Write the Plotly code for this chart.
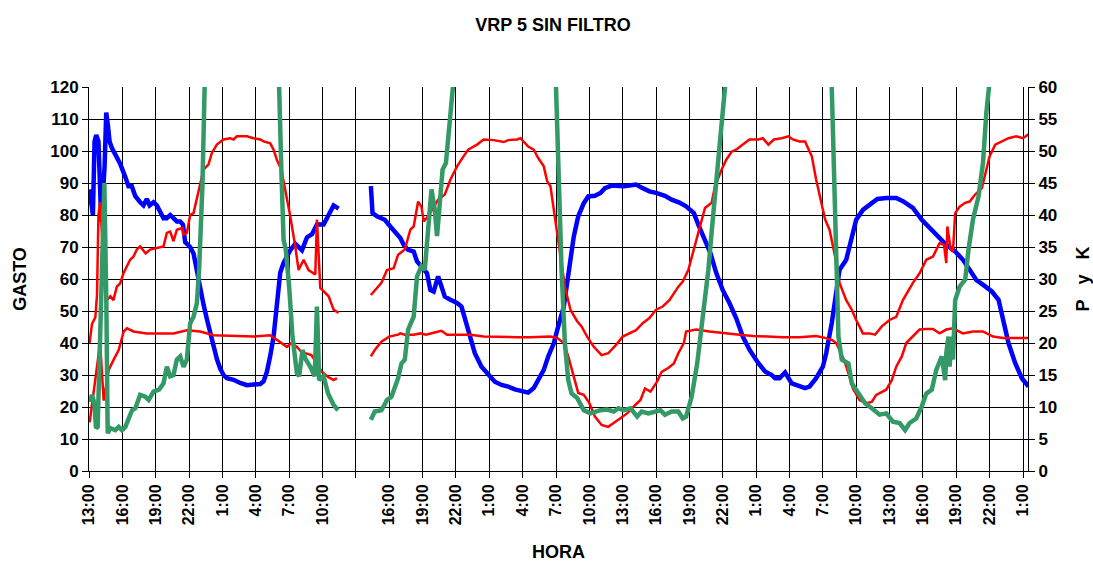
import plotly.graph_objects as go

# ---------------- data ----------------
# time axis: hours elapsed since 13:00 of the first day
TICK_HOURS = list(range(0, 85, 3))
TICK_LABELS = ["13:00", "16:00", "19:00", "22:00", "1:00", "4:00", "7:00", "10:00", "",
               "16:00", "19:00", "22:00", "1:00", "4:00", "7:00", "10:00",
               "13:00", "16:00", "19:00", "22:00", "1:00", "4:00", "7:00", "10:00",
               "13:00", "16:00", "19:00", "22:00", "1:00"]

# GASTO (left axis)
gasto_h = [0.05, 0.2, 0.35, 0.5, 0.65, 0.85, 0.95, 1.1, 1.4, 1.55,
           1.7, 1.85, 2.05, 2.35, 2.8, 3.25, 3.55, 3.85, 4.15, 4.6,
           4.9, 5.2, 5.45, 5.8, 6.1, 6.4, 6.7, 7.0, 7.3, 7.6,
           7.9, 8.2, 8.45, 8.65, 9.1, 9.4, 9.7, 10.0, 10.3, 10.6,
           10.9, 11.2, 11.5, 11.8, 12.1, 12.4, 13.0, 13.6, 14.2, 14.8,
           15.4, 15.7, 16.0, 16.3, 16.6, 16.9, 17.2, 17.5, 17.8, 18.1,
           18.55, 19.15, 19.6, 20.05, 20.5, 21.1, 21.55, 22.0, 22.45,
           None,
           25.35, 25.5, 25.9, 26.3, 26.6, 27.1, 27.5, 28.0, 28.3, 28.7,
           29.2, 29.5, 29.9, 30.4, 30.7, 31.0, 31.4, 31.6, 32.0, 32.5,
           33.1, 33.5, 33.8, 34.3, 34.7, 35.3, 35.9, 36.5, 37.1, 37.7,
           38.3, 38.9, 39.5, 40.0, 40.4, 40.9, 41.3, 41.8, 42.2, 42.7,
           43.0, 43.3, 43.6, 44.0, 44.5, 44.9, 45.5, 46.0, 46.4, 47.0,
           47.5, 48.1, 48.6, 49.2, 49.8, 50.4, 51.0, 51.8, 52.4, 53.1,
           53.7, 54.4, 54.8, 55.3, 55.9, 56.4, 57.0, 57.6, 58.2, 58.8,
           59.4, 60.2, 60.8, 61.4, 61.7, 62.1, 62.6, 63.2, 63.9, 64.4,
           64.8, 65.4, 66.0, 66.3, 66.8, 67.1, 67.5, 68.1, 68.6, 69.0,
           69.6, 70.2, 70.9, 71.7, 72.6, 73.2, 74.1, 74.9, 75.6, 76.4,
           77.1, 77.9, 78.6, 79.2, 79.8, 80.6, 81.2, 81.8, 82.2, 82.7,
           83.3, 83.9, 84.5]
gasto_v = [88, 82, 80, 103, 105, 103, 90, 78, 95, 112,
           108, 103, 101, 99, 96, 92, 89, 89, 86, 84,
           83, 85, 83, 84, 83, 81, 79, 79, 80, 79,
           78, 78, 77, 71.5, 70, 68, 62, 57, 52, 47.5,
           43, 39, 35, 32, 30, 29, 28.5, 27.5, 26.8, 27,
           27.2, 28, 31, 36, 42, 52, 62, 65, 67, 69,
           71, 69, 73, 74, 77, 77, 80, 83, 82,
           None,
           89, 80.6, 79.6, 79, 78.5, 76.4, 74.9, 72.8, 70.7, 69.1,
           68.6, 65.5, 63.9, 61.8, 56.6, 56.1, 60.8, 58.7, 54.5, 53.5,
           52.5, 51.4, 47.8, 42, 36.8, 32.6, 30, 27.9, 26.9, 26.4,
           25.5, 25, 24.5, 25.9, 28.5, 31.6, 35.8, 39.9, 45.2, 51.4,
           58.7, 67, 73.3, 79.6, 83.7, 85.8, 86, 86.9, 88.4, 89.2,
           89, 89, 89.2, 89.5, 88.4, 87.4, 86.9, 86, 84.8, 83.9,
           82.7, 80.6, 77, 73, 68, 62, 56.5, 52.5, 47.8, 42,
           37.9, 33.7, 31.1, 30, 29, 29, 30.8, 27.4, 26.4, 25.9,
           26.4, 29, 32.6, 36.8, 46.2, 54.5, 62.9, 66, 72.3, 78.5,
           81.6, 83.2, 85, 85.3, 85.3, 84.3, 82.2, 78.5, 75.9, 73.3,
           70.7, 68.6, 66, 62.9, 59.7, 57.7, 56.1, 53.5, 47.2, 39.9,
           33.7, 29, 26.4]

# P (upper pressure, right axis)
p1_h = [0.05, 0.27, 0.57, 0.72, 0.85, 1.0, 1.3, 1.62, 1.92, 2.2,
        2.5, 2.8, 3.1, 3.4, 3.7, 4.0, 4.3, 4.6, 5.1, 5.5,
        6.1, 6.7, 7.0, 7.3, 7.6, 7.9, 8.4, 8.5, 8.8, 9.1,
        9.4, 9.7, 10.0, 10.3, 10.75, 11.05, 11.5, 12.1, 12.7, 13.0,
        13.3, 14.2, 14.8, 15.4, 15.7, 16.3, 16.6, 16.9, 17.3, 17.6,
        18.1, 18.55, 18.85, 19.3, 19.75, 20.35, 20.5, 20.8, 21.55, 22.0,
        22.45,
        None,
        25.35, 26.3, 26.8, 27.4, 27.8, 28.4, 28.9, 29.2, 29.6, 29.9,
        30.1, 30.5, 31.4, 32.0, 32.5, 33.1, 33.7, 34.1, 34.9, 35.5,
        36.4, 37.3, 37.7, 38.5, 38.8, 39.1, 39.5, 40.0, 40.4, 40.9,
        41.2, 41.5, 41.8, 42.1, 42.4, 42.8, 43.3, 43.9, 44.3, 44.8,
        45.4, 46.1, 46.7, 47.4, 48.0, 48.6, 49.2, 49.8, 50.4, 51.0,
        51.6, 52.2, 53.0, 53.4, 53.9, 54.3, 54.8, 55.4, 56.0, 56.3,
        56.9, 57.3, 57.8, 58.2, 58.8, 59.4, 60.2, 60.6, 61.1, 61.6,
        62.3, 62.9, 63.3, 63.9, 64.4, 65.0, 65.4, 65.9, 66.2, 66.6,
        67.1, 67.5, 68.1, 68.6, 69.0, 69.6, 70.2, 70.7, 71.3, 72.0,
        72.6, 73.2, 74.1, 74.7, 75.3, 75.9, 76.5, 76.9, 77.1, 77.2,
        77.5, 77.7, 77.9, 78.3, 78.8, 79.2, 79.7, 80.3, 80.7, 81.0,
        81.5, 82.1, 82.7, 83.4, 84.0, 84.5]
p1_v = [20, 23, 24, 27.5, 40, 42, 33, 26.7, 27.3, 26.7,
        28.8, 29.3, 30.9, 32, 33, 33.5, 34.6, 35.1, 34, 34.6,
        34.8, 35.1, 37.2, 37.4, 35.9, 37.7, 38, 36.9, 37.2, 40,
        40.3, 42.6, 44.5, 47.1, 47.9, 49.7, 51, 51.8, 52, 51.8,
        52.3, 52.3, 52, 51.8, 51.5, 51.2, 50.2, 48.6, 47.1, 44.5,
        39.8, 35.1, 31.4, 33, 31.4, 30.7, 39.3, 28.6, 27.3, 25.2,
        24.7,
        None,
        27.5, 29.4, 31.4, 31.7, 33.8, 34.6, 37.7, 38.2, 42.1, 41.3,
        39, 39.8, 42.4, 43.2, 45.5, 47.6, 49.2, 50.2, 51, 51.8,
        51.7, 51.4, 51.7, 51.8, 52, 51.5, 50.7, 50.2, 48.9, 47.6,
        45.3, 44.5, 40.8, 37.7, 33.5, 28.8, 25.2, 23.4, 22.6, 21,
        19.4, 18.1, 18.4, 19.7, 21, 21.5, 22, 23.1, 23.9, 25.2,
        25.7, 26.7, 28.8, 29.6, 31.4, 34, 37.2, 41.1, 41.9, 44.5,
        47.1, 48.6, 49.9, 50.2, 51, 51.8, 51.8, 52, 51, 51.8,
        52, 52.3, 51.8, 51.5, 51.5, 49.2, 45.5, 41.9, 39.3, 37.7,
        33.5, 29.4, 26.7, 25.2, 23.6, 21.5, 21.5, 21.3, 22.6, 23.6,
        24.1, 26.7, 29.4, 30.9, 33, 33.5, 35.6, 35.3, 32.5, 38.2,
        34.6, 34.3, 40.3, 41.3, 41.9, 42.1, 43.2, 44.2, 47.1, 49.2,
        51, 51.5, 52, 52.3, 52, 52.6]

# P (lower pressure, right axis)
p2_h = [0.06, 0.27, 0.48, 0.78, 1.0, 1.32, 1.77, 2.22, 2.67, 3.12,
        3.42, 4.0, 5.2, 6.4, 7.6, 8.8, 10.0, 11.2, 13.6, 14.8,
        16.3, 16.9, 17.5, 17.8, 18.2, 18.7, 19.1, 20.0, 20.5, 20.9,
        21.5, 22.0, 22.3,
        None,
        25.35, 25.7, 26.3, 27.0, 27.8, 28.0, 28.4, 29.2, 29.8, 30.3,
        31.0, 31.7, 32.2, 33.4, 34.3, 35.5, 37.0, 38.5, 39.7, 40.6,
        41.5, 42.1, 42.7, 43.1, 43.6, 44.0, 44.5, 45.0, 45.5, 46.1,
        46.7, 47.2, 47.8, 48.4, 49.0, 49.6, 50.0, 50.5, 51.1, 51.5,
        52.1, 52.6, 53.0, 53.5, 53.7, 54.6, 55.8, 56.7, 57.5, 58.5,
        59.7, 60.9, 62.4, 63.9, 65.4, 66.2, 66.8, 67.2, 67.9, 68.3,
        68.7, 69.3, 69.9, 70.4, 70.8, 71.7, 72.2, 72.6, 73.1, 73.5,
        74.1, 74.7, 75.3, 75.9, 76.5, 77.1, 77.7, 78.6, 79.5, 80.4,
        81.3, 82.2, 83.1, 84.5]
p2_v = [7.6, 10.5, 12.5, 17, 20, 11, 15.8, 17.4, 18.9, 21.8,
        22.3, 21.8, 21.5, 21.5, 21.5, 22, 21.8, 21.2, 21, 21,
        21.2, 20.5, 19.7, 19.4, 20, 19.4, 18.6, 18.1, 16.8, 15.6,
        14.7, 14.2, 14.5,
        None,
        17.9, 18.9, 20.2, 21, 21.3, 21.5, 21.3, 21.3, 21.5, 21.3,
        21.6, 21.9, 21.3, 21.3, 21.3, 21, 20.9, 20.9, 20.9, 21,
        21, 20.8, 20, 17.9, 14.8, 12.2, 11.9, 10.6, 8.5, 7.2,
        6.9, 7.5, 8.2, 9, 10.1, 11.1, 12.9, 12.4, 14, 15.5,
        16.1, 16.8, 18.4, 20, 21.8, 22.1, 21.8, 21.6, 21.5, 21.3,
        21.1, 21, 20.9, 20.9, 21.1, 20.8, 20.5, 20, 17.4, 15.3,
        12.9, 11.1, 10.6, 10.8, 11.9, 12.7, 14.2, 16.3, 17.9, 20,
        21, 22.1, 22.2, 22.2, 21.5, 22.1, 22.3, 21.5, 21.8, 21.8,
        21, 20.8, 20.8, 20.8]

# K (right axis, runs off the top of the scale)
k_h = [0.06, 0.27, 0.48, 0.63, 0.78, 1.02, 1.38, 1.56, 1.68, 1.92,
       2.37, 2.67, 2.97, 3.27, 3.57, 3.87, 4.17, 4.6, 5.07, 5.37,
       5.8, 6.3, 6.7, 7.0, 7.3, 7.6, 7.9, 8.2, 8.5, 8.8,
       9.1, 9.4, 9.7, 9.9, 10.2, 10.4, 13.8, 17.1, 17.3, 17.5,
       17.7, 18.0, 18.3, 18.7, 18.9, 19.2, 19.5, 19.9, 20.3, 20.5,
       20.7, 21.1, 21.5, 22.0, 22.4,
       None,
       25.35, 25.7, 26.3, 26.8, 27.2, 27.5, 27.8, 28.1, 28.4, 28.7,
       29.2, 29.5, 29.9, 30.2, 30.5, 30.8, 31.1, 31.3, 31.5, 31.8,
       32.1, 32.5, 32.9, 37.5, 42.0, 42.2, 42.5, 42.8, 43.1, 43.4,
       43.9, 44.5, 45.1, 46.0, 46.6, 47.2, 47.6, 48.1, 48.7, 49.3,
       49.7, 50.3, 50.8, 51.4, 51.8, 52.4, 53.0, 53.4, 53.7, 54.2,
       54.7, 55.2, 55.7, 56.1, 56.5, 56.8, 57.1, 62.0, 66.8, 67.1,
       67.4, 67.7, 68.3, 68.6, 69.2, 69.8, 70.4, 71.1, 71.7, 72.3,
       72.9, 73.4, 73.8, 74.4, 74.9, 75.3, 75.8, 76.2, 76.7, 77.0,
       77.1, 77.3, 77.4, 77.6, 77.7, 77.9, 78.3, 78.8, 79.1, 79.5,
       80.0, 80.4, 80.7, 81.0, 84.5]
k_v = [10.8, 11.9, 10.6, 6.7, 6.9, 21, 45, 26.2, 5.9, 6.7,
       6.4, 6.9, 6.4, 6.9, 8, 9.5, 9.8, 11.9, 11.6, 11.1,
       12.4, 12.7, 13.7, 16.3, 14.8, 15, 17.4, 17.9, 16.3, 17.4,
       23.1, 24.1, 26.2, 31.4, 44.5, 60.1, 140, 60, 47, 36.1,
       34.6, 28.8, 21, 15.3, 14.8, 18.9, 17.4, 16.3, 14.8, 25.7,
       14.2, 14.8, 12.1, 10.3, 9.5,
       None,
       8, 9.3, 9.5, 11.1, 11.6, 13.2, 14.5, 16.8, 17.4, 22.1,
       24.1, 30.4, 32, 31.4, 38.7, 44, 40.8, 36.7, 40.8, 47.1,
       48.1, 54.9, 60, 150, 60, 47.1, 31.4, 20, 14.2, 12.1,
       11.4, 9.5, 9, 9.5, 9.6, 9.3, 9.8, 9.5, 9.8, 8.5,
       9.3, 9, 9.3, 9.5, 8.8, 9.3, 9.3, 8.2, 8.5, 11.6,
       16.8, 23.6, 31.4, 39.3, 47.1, 52.3, 60, 150, 60, 36.7,
       21, 17.4, 16.8, 13.7, 12.1, 10.6, 9.8, 8.8, 9, 7.7,
       7.5, 6.4, 7.5, 8.2, 10.1, 12.1, 12.7, 15.8, 17.9, 14.2,
       18.4, 21, 16.3, 21, 17.4, 26.7, 28.8, 29.9, 34.6, 39.3,
       42.9, 48.1, 55.9, 60, 120]

for a, b in ((gasto_h, gasto_v), (p1_h, p1_v), (p2_h, p2_v), (k_h, k_v)):
    assert len(a) == len(b), (len(a), len(b))

# ---------------- figure ----------------
FONT = "Arial, 'Liberation Sans', sans-serif"
BLUE = "#0000FF"
RED = "#FF0000"
GREEN = "#339966"

fig = go.Figure()
fig.add_trace(go.Scatter(x=gasto_h, y=gasto_v, mode="lines", name="GASTO",
                         line=dict(color=BLUE, width=4.5), yaxis="y"))
fig.add_trace(go.Scatter(x=p1_h, y=p1_v, mode="lines", name="P",
                         line=dict(color=RED, width=2.5), yaxis="y2"))
fig.add_trace(go.Scatter(x=p2_h, y=p2_v, mode="lines", name="P",
                         line=dict(color=RED, width=2.5), yaxis="y2"))
fig.add_trace(go.Scatter(x=k_h, y=k_v, mode="lines", name="K",
                         line=dict(color=GREEN, width=4.5), yaxis="y2"))

tick_font = dict(family=FONT, size=17, color="black", weight="bold")
title_font = dict(family=FONT, size=18, color="black", weight="bold")

fig.update_layout(
    width=1093, height=562,
    margin=dict(l=89, r=65, t=87, b=91, autoexpand=False),
    paper_bgcolor="white", plot_bgcolor="white",
    showlegend=False,
    title=dict(text="VRP 5 SIN FILTRO", x=553 / 1093, xref="container", xanchor="center",
               y=1 - 25 / 562, yref="container", yanchor="middle",
               font=dict(family=FONT, size=18, color="black", weight="bold")),
    xaxis=dict(range=[0, 84.45], tickmode="array", tickvals=TICK_HOURS, ticktext=TICK_LABELS,
               tickangle=-90, tickfont=dict(family=FONT, size=16, color="black", weight="bold"),
               showgrid=True, gridcolor="black", gridwidth=1, zeroline=False,
               showline=True, linecolor="black", linewidth=1,
               ticks="outside", ticklen=6, tickcolor="black",
               title=dict(text="HORA", font=title_font, standoff=26), automargin=False),
    yaxis=dict(range=[0, 120], dtick=10, tick0=0, tickfont=tick_font,
               showgrid=True, gridcolor="black", gridwidth=1, zeroline=False,
               showline=True, linecolor="black", linewidth=1,
               ticks="outside", ticklen=6, tickcolor="black",
               title=dict(text="GASTO", font=title_font, standoff=18), automargin=False),
    yaxis2=dict(range=[0, 60], dtick=5, tick0=0, tickfont=tick_font,
                overlaying="y", side="right", showgrid=False, zeroline=False,
                showline=True, linecolor="black", linewidth=1,
                ticks="outside", ticklen=6, tickcolor="black",
                title=dict(text="P\u00a0\u00a0\u00a0y\u00a0\u00a0\u00a0K", font=title_font, standoff=24),
                automargin=False),
)

fig.write_html("out.html", config={"displayModeBar": False},
               post_script="document.body.style.margin='0';")
